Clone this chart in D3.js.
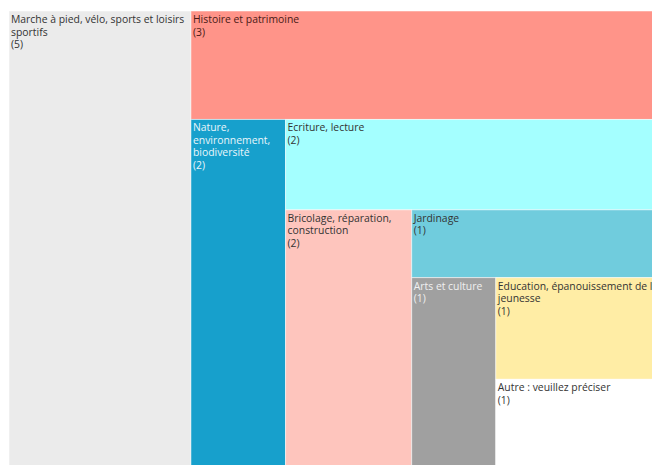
<!DOCTYPE html>
<html>
<head>
<meta charset="utf-8">
<script src="https://cdn.jsdelivr.net/npm/d3@7"></script>
<style>
  body { margin: 0; background: #fff; }
  text { font-family: "Open Sans", sans-serif; font-size: 10.4px; }
</style>
</head>
<body>
<div id="main"></div>
<script>
var categories = ["Marche à pied, vélo, sports et loisirs sportifs", "Histoire et patrimoine", "Nature, environnement, biodiversité", "Ecriture, lecture", "Bricolage, réparation, construction", "Jardinage", "Arts et culture", "Education, épanouissement de la jeunesse", "Autre : veuillez préciser"];
var counts = [5, 3, 2, 2, 2, 1, 1, 1, 1];
var fills = ["#ebebeb", "#ff9489", "#17a0cc", "#a4ffff", "#fec5bd", "#70ccdd", "#a0a0a0", "#ffeda5", "#ffffff"];
var textColors = ["#333", "#4a1a16", "#eaf6fb", "#333", "#333", "#333", "#f0f0f0", "#333", "#333"];

var svg = d3.select("#main").append("svg")
  .attr("width", 652)
  .attr("height", 465);//create canvas

// each item takes a slice of what is left, turning between columns and rows
function alternate(parent, x0, y0, x1, y1) {
  var nodes = parent.children, rest = parent.value;
  nodes.forEach(function(node, i) {
    var last = i === nodes.length - 1;
    if (i % 2 === 0) {
      var w = last ? x1 - x0 : (x1 - x0) * node.value / rest;
      node.x0 = x0; node.x1 = x0 + w; node.y0 = y0; node.y1 = y1;
      x0 += w;
    } else {
      var h = last ? y1 - y0 : (y1 - y0) * node.value / rest;
      node.x0 = x0; node.x1 = x1; node.y0 = y0; node.y1 = y0 + h;
      y0 += h;
    }
    rest -= node.value;
  });
}

var root = d3.hierarchy({ children: categories.map(function(c, i) { return { name: c, value: counts[i], idx: i }; }) })
  .sum(function(d) { return d.value || 0; });

d3.treemap()
  .tile(alternate)
  .size([655, 470])
  (root);//layout

var cells = svg.append("g")
  .attr("transform", "translate(9, 11)")
  .selectAll("g").data(root.leaves()).enter().append("g")
  .attr("transform", function(d) { return "translate(" + d.x0 + "," + d.y0 + ")"; });

cells.append("rect")
  .attr("width", function(d) { return d.x1 - d.x0; })
  .attr("height", function(d) { return d.y1 - d.y0; })
  .attr("fill", function(d) { return fills[d.data.idx]; })
  .attr("stroke", "rgba(255,255,255,0.5)")
  .attr("stroke-width", 1);//draw cells

cells.each(function(d) {
  var g = d3.select(this);
  var maxW = d.x1 - d.x0 - 4;
  var label = g.append("text")
    .attr("x", 2)
    .attr("y", 12)
    .attr("fill", textColors[d.data.idx]);
  var words = d.data.name.split(" ");
  var lines = [], line = [];
  var probe = label.append("tspan");
  words.forEach(function(w) {
    var test = line.concat([w]).join(" ");
    probe.text(test);
    if (line.length && probe.node().getComputedTextLength() > maxW) {
      lines.push(line.join(" "));
      line = [w];
    } else {
      line.push(w);
    }
  });
  lines.push(line.join(" "));
  probe.remove();
  lines.push("(" + d.data.value + ")");
  label.selectAll("tspan").data(lines).enter().append("tspan")
    .attr("x", 2)
    .attr("dy", function(t, i) { return i ? 12.5 : 0; })
    .text(function(t) { return t; });
});//labels
</script>
</body>
</html>
